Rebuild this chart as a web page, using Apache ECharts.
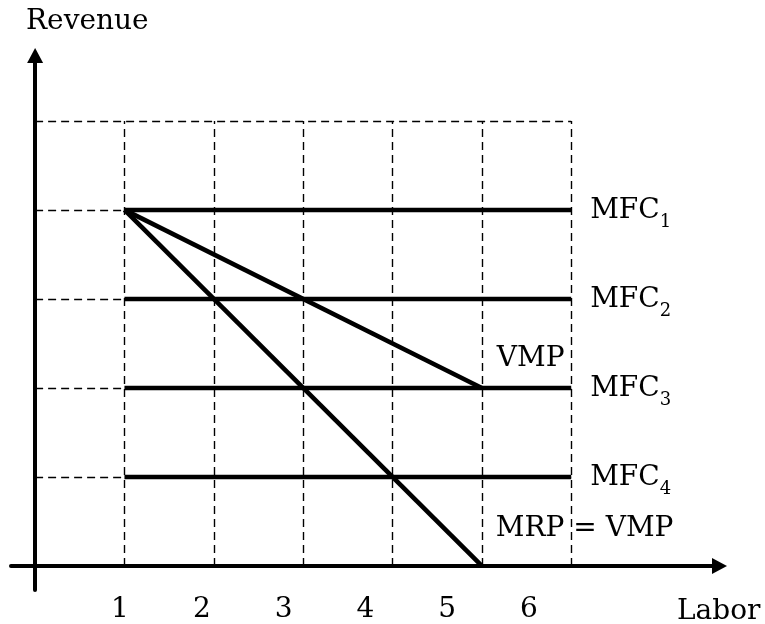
<!DOCTYPE html>
<html>
<head>
<meta charset="utf-8">
<style>
  html, body { margin: 0; padding: 0; background: #fff; }
  #chart { width: 765px; height: 624px; }
</style>
<script src="https://cdn.jsdelivr.net/npm/echarts@6/dist/echarts.min.js"></script>
</head>
<body>
<div id="chart"></div>
<script>
// Labour units shown under the horizontal axis
const laborTicks = [1, 2, 3, 4, 5, 6];
// Dashed reference grid (labour units / revenue levels)
const gridX = [1, 2, 3, 4, 5, 6];
const gridY = [1, 2, 3, 4, 5];
const gridTop = 5;
const gridRight = 6;
// Marginal factor cost levels MFC1..MFC4 (horizontal lines from labour 1 to 6)
const mfcNames = ['1', '2', '3', '4'];
const mfcLevels = [4, 3, 2, 1];
const mfcFrom = 1;
const mfcTo = 6;
// Value of marginal product
const vmpLabor = [1, 5];
const vmpRevenue = [4, 2];
// Marginal revenue product (equal to VMP)
const mrpLabor = [1, 5];
const mrpRevenue = [4, 0];

const FONT = 'DejaVu Serif';
const INK = '#000';

const dashedSegments = [];
gridX.forEach(function (x) {
  dashedSegments.push({ coords: [[x, 0], [x, gridTop]] });
});
gridY.forEach(function (y) {
  dashedSegments.push({ coords: [[0, y], [gridRight, y]] });
});

const solid = { color: INK, width: 4.6, cap: 'butt', join: 'miter' };

const series = [{
  type: 'lines',
  coordinateSystem: 'cartesian2d',
  silent: true,
  z: 1,
  lineStyle: { color: INK, width: 1.4, type: [8, 5], opacity: 1 },
  data: dashedSegments
}];

mfcLevels.forEach(function (level, i) {
  series.push({
    type: 'line',
    name: 'MFC' + mfcNames[i],
    symbol: 'none',
    silent: true,
    z: 3,
    lineStyle: solid,
    data: [[mfcFrom, level], [mfcTo, level]],
    endLabel: {
      show: true,
      distance: 19,
      offset: [0, 1],
      formatter: function () { return '{m|MFC}{s|' + mfcNames[i] + '}'; },
      rich: {
        m: { fontFamily: FONT, fontSize: 28, lineHeight: 40, color: INK },
        s: { fontFamily: FONT, fontSize: 18, lineHeight: 11, verticalAlign: 'bottom', color: INK }
      }
    }
  });
});

series.push({
  type: 'line',
  name: 'VMP',
  symbol: 'none',
  silent: true,
  z: 3,
  lineStyle: solid,
  data: vmpLabor.map(function (x, k) { return [x, vmpRevenue[k]]; }),
  endLabel: {
    show: true, distance: 15, offset: [0, -29],
    formatter: 'VMP',
    fontFamily: FONT, fontSize: 28, color: INK
  }
});

series.push({
  type: 'line',
  name: 'MRP',
  symbol: 'none',
  silent: true,
  z: 3,
  lineStyle: solid,
  data: mrpLabor.map(function (x, k) { return [x, mrpRevenue[k]]; }),
  endLabel: {
    show: true, distance: 14, offset: [0, -37],
    formatter: 'MRP = VMP',
    fontFamily: FONT, fontSize: 28, color: INK
  }
});

const chart = echarts.init(document.getElementById('chart'), null, { renderer: 'canvas' });
chart.setOption({
  animation: false,
  backgroundColor: '#fff',
  title: [
    { text: 'Revenue', left: 26, top: 8, padding: 0,
      textStyle: { fontFamily: FONT, fontSize: 28, fontWeight: 'normal', color: INK, lineHeight: 28 } },
    { text: 'Labor', left: 677, top: 598, padding: 0,
      textStyle: { fontFamily: FONT, fontSize: 28, fontWeight: 'normal', color: INK, lineHeight: 28 } }
  ],
  grid: { left: 11, right: 45.5, top: 55.5, bottom: 32, containLabel: false },
  xAxis: [{
    type: 'value', min: -0.27, max: 7.66,
    axisLine: { show: true, onZero: true, symbol: ['none', 'triangle'], symbolSize: [16, 15],
      lineStyle: { color: INK, width: 4 } },
    axisTick: { show: false }, axisLabel: { show: false }, splitLine: { show: false }
  }, {
    type: 'value', position: 'bottom', min: -0.3325, max: 8.329,
    axisLine: { show: false, onZero: false },
    axisTick: { show: false },
    splitLine: { show: false },
    axisLabel: {
      customValues: laborTicks,
      margin: 20, verticalAlign: 'middle',
      fontFamily: FONT, fontSize: 28, color: INK
    }
  }],
  yAxis: {
    type: 'value', min: -0.27, max: 5.735,
    axisLine: { show: true, onZero: true, symbol: ['none', 'triangle'], symbolSize: [16, 15],
      lineStyle: { color: INK, width: 4 } },
    axisTick: { show: false }, axisLabel: { show: false }, splitLine: { show: false }
  },
  series: series
});
</script>
</body>
</html>
